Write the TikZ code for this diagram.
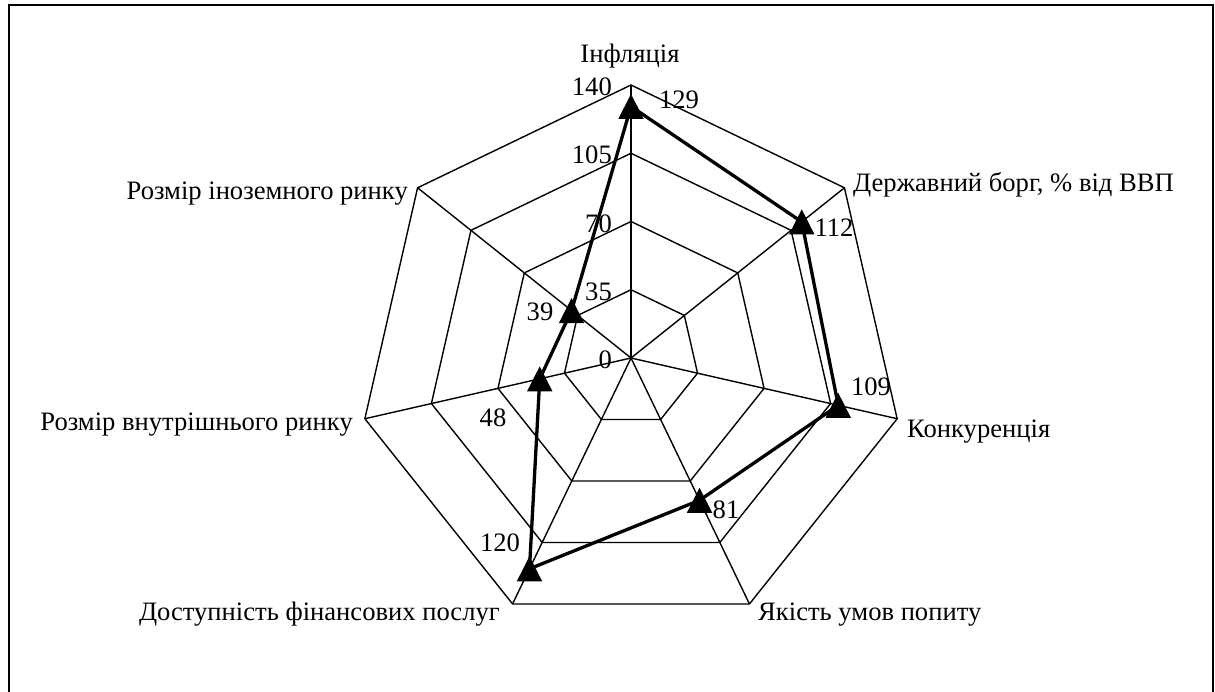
\documentclass[tikz,border=0pt]{standalone}
\usepackage{fontspec}
\setmainfont{Liberation Serif}
\begin{document}
\begin{tikzpicture}[x=1pt,y=1pt,
  gridline/.style={line width=1.4pt,line join=miter},
  dataline/.style={line width=3.3pt,line join=round},
  frameline/.style={line width=2pt},
  lbl/.style={inner sep=0pt,font=\fontsize{26.6}{30}\selectfont}]
\useasboundingbox (0,0) rectangle (1215,-692);
\draw[frameline] (9,-720) -- (9,-5) -- (1213,-5) -- (1213,-720);
\begin{scope}[shift={(631,-358)}]
  \coordinate (c) at (0,0);
  \foreach \l in {68.25,136.5,204.75,273}
    \draw[gridline] (90:\l) -- (90-360/7:\l) -- (90-720/7:\l) -- (90-1080/7:\l)
      -- (90-1440/7:\l) -- (90-1800/7:\l) -- (90-2160/7:\l) -- cycle;
  \foreach \k in {0,...,6}
    \draw[gridline] (c) -- (90-\k*360/7:273);
  \foreach \v [count=\k from 0] in {129,112,109,81,120,48,39}
    \coordinate (p\k) at (90-\k*360/7:\v*1.95);
  \draw[dataline] (p0) -- (p1) -- (p2) -- (p3) -- (p4) -- (p5) -- (p6) -- cycle;
  \foreach \k in {0,...,6}
    \fill (p\k) ++(0,12.5) -- ++(-12.7,-25) -- ++(25.4,0) -- cycle;
  % scale labels
  \foreach \t/\l in {0/0,35/68.25,70/136.5,105/204.75,140/273}
    \node[lbl,anchor=east] (s\t) at (-19,\l-2) {\t};
\end{scope}
% value labels
\node[lbl] (v0) at (679,-100) {129};
\node[lbl] (v1) at (834,-228) {112};
\node[lbl] (v2) at (871,-387) {109};
\node[lbl] (v3) at (726,-510) {81};
\node[lbl] (v4) at (500,-543) {120};
\node[lbl] (v5) at (493,-418) {48};
\node[lbl] (v6) at (540,-312) {39};
% category labels
\node[lbl,anchor=base] (a0) at (630,-62.5) {Інфляція};
\node[lbl,anchor=base west] (a1) at (853,-192) {Державний борг, \% від ВВП};
\node[lbl,anchor=base west] (a2) at (907,-437) {Конкуренція};
\node[lbl,anchor=base west] (a3) at (758,-620) {Якість умов попиту};
\node[lbl,anchor=base east] (a4) at (500,-620) {Доступність фінансових послуг};
\node[lbl,anchor=base east] (a5) at (353,-430) {Розмір внутрішнього ринку};
\node[lbl,anchor=base east] (a6) at (408,-200) {Розмір іноземного ринку};
\end{tikzpicture}
\end{document}
